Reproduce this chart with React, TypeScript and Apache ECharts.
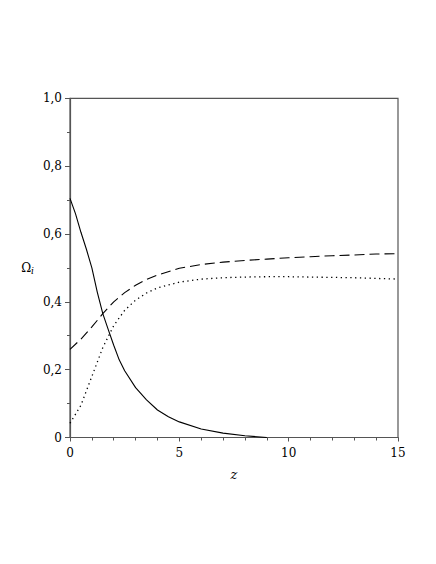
import React, { useEffect, useRef } from "react";
import * as echarts from "echarts";

const solidX = [0, 0.25, 0.5, 0.75, 1, 1.25, 1.5, 1.75, 2, 2.25, 2.5, 3, 3.5, 4, 4.5, 5, 6, 7, 8, 9];
const solidY = [0.705, 0.66, 0.605, 0.555, 0.5, 0.428, 0.365, 0.318, 0.272, 0.229, 0.197, 0.147, 0.111, 0.081, 0.061, 0.046, 0.025, 0.013, 0.005, 0.0];

const dashedX = [0, 0.5, 1, 1.5, 2, 2.5, 3, 3.5, 4, 5, 6, 7, 8, 9, 10, 11, 12, 13, 14, 15];
const dashedY = [0.26, 0.29, 0.326, 0.365, 0.4, 0.427, 0.449, 0.466, 0.479, 0.499, 0.51, 0.517, 0.522, 0.526, 0.53, 0.533, 0.536, 0.538, 0.541, 0.542];

const dottedX = [0, 0.5, 1, 1.5, 2, 2.5, 3, 3.5, 4, 5, 6, 7, 8, 9, 10, 11, 12, 13, 14, 15];
const dottedY = [0.042, 0.095, 0.18, 0.265, 0.33, 0.375, 0.405, 0.426, 0.441, 0.458, 0.467, 0.471, 0.473, 0.474, 0.474, 0.473, 0.472, 0.471, 0.469, 0.467];

const xTicks = [0, 5, 10, 15];
const yTicks = [0, 0.2, 0.4, 0.6, 0.8, 1.0];

const pairs = (xs: number[], ys: number[]) => xs.map((x, i) => [x, ys[i]]);

const FONT = "DejaVu Serif";
const AXIS = "#555";

export default function App() {
  const ref = useRef<HTMLDivElement>(null);
  useEffect(() => {
    if (!ref.current) return;
    const chart = echarts.init(ref.current, undefined, { renderer: "svg" });
    chart.setOption({
      animation: false,
      backgroundColor: "#fff",
      textStyle: { fontFamily: FONT },
      grid: {
        left: 70,
        top: 98.3,
        width: 328,
        height: 339.2,
        show: true,
        borderColor: AXIS,
        borderWidth: 1.2,
      },
      xAxis: {
        type: "value",
        min: xTicks[0],
        max: xTicks[xTicks.length - 1],
        interval: 5,
        name: "z",
        nameLocation: "middle",
        nameGap: 30,
        nameTextStyle: { fontFamily: FONT, fontSize: 13, fontStyle: "italic", color: "#000" },
        axisLine: { show: true, lineStyle: { color: AXIS, width: 1.2 } },
        axisTick: { show: true, length: 4, lineStyle: { color: AXIS } },
        minorTick: { show: true, splitNumber: 5, length: 3, lineStyle: { color: AXIS } },
        splitLine: { show: false },
        axisLabel: { fontFamily: FONT, fontSize: 12, color: "#000", margin: 9 },
      },
      yAxis: {
        type: "value",
        min: yTicks[0],
        max: yTicks[yTicks.length - 1],
        interval: 0.2,
        name: "{a|Ω}{b|i}",
        nameLocation: "middle",
        nameRotate: 0,
        nameGap: 36,
        nameTextStyle: {
          fontFamily: FONT,
          rich: {
            a: { fontFamily: FONT, fontSize: 12, color: "#000" },
            b: { fontFamily: FONT, fontSize: 9, fontStyle: "italic", color: "#000", padding: [7, 0, 0, 0] },
          },
        },
        axisLine: { show: true, lineStyle: { color: AXIS, width: 1.2 } },
        axisTick: { show: true, length: 5, lineStyle: { color: AXIS } },
        minorTick: { show: true, splitNumber: 2, length: 3, lineStyle: { color: AXIS } },
        splitLine: { show: false },
        axisLabel: {
          fontFamily: FONT,
          fontSize: 12,
          color: "#000",
          margin: 8,
          formatter: (v: number) => (v === 0 ? "0" : v.toFixed(1).replace(".", ",")),
        },
      },
      series: [
        {
          type: "line",
          data: pairs(solidX, solidY),
          showSymbol: false,
          lineStyle: { color: "#000", width: 1.1 },
        },
        {
          type: "line",
          data: pairs(dashedX, dashedY),
          showSymbol: false,
          lineStyle: { color: "#000", width: 1.1, type: [10, 5] },
        },
        {
          type: "line",
          data: pairs(dottedX, dottedY),
          showSymbol: false,
          lineStyle: { color: "#000", width: 1.3, type: [1.3, 3.5] },
        },
      ],
    });
    return () => chart.dispose();
  }, []);
  return (
    <div
      ref={ref}
      style={{ position: "absolute", left: 0, top: 0, width: 436, height: 564 }}
    />
  );
}
